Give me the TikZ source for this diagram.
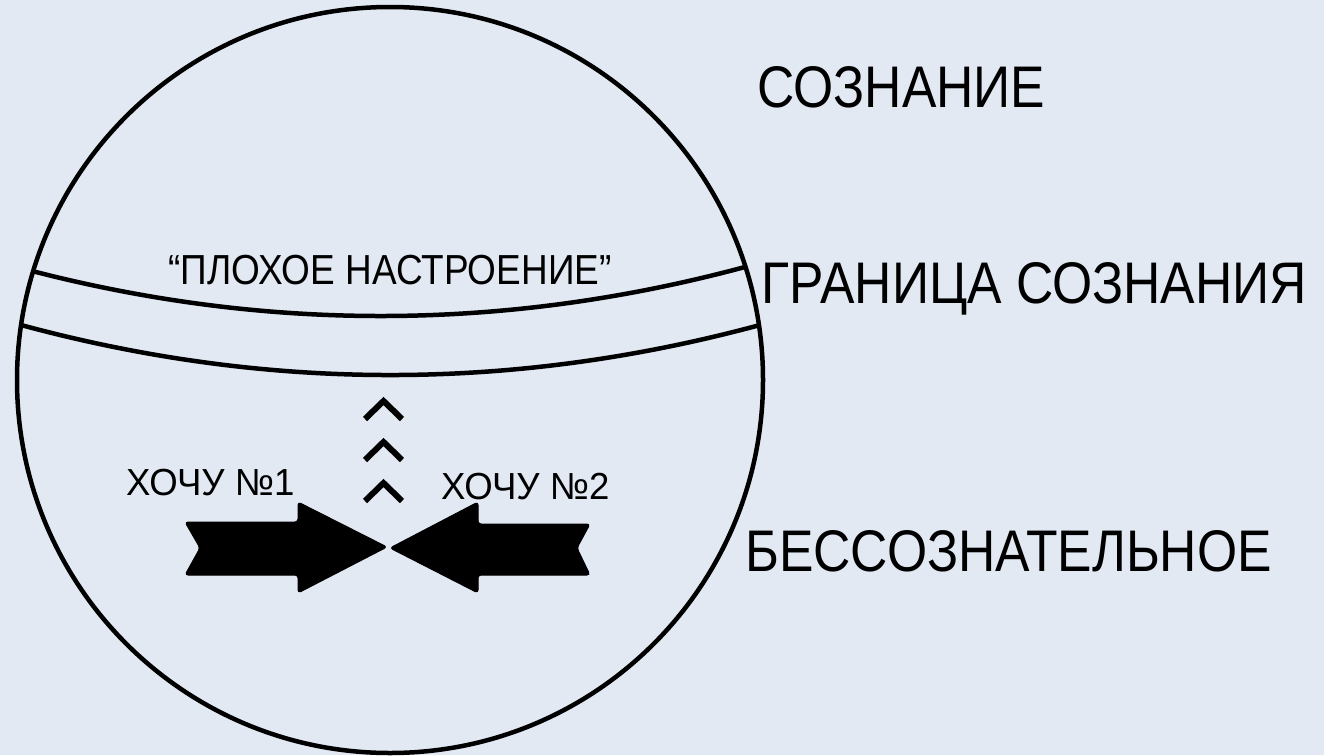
\documentclass[tikz,border=0pt]{standalone}
\usepackage{fontspec}
\newfontfamily\thinfont[FakeStretch=0.88]{Liberation Sans}
\newfontfamily\smallfont[FakeStretch=0.97]{Liberation Sans}
\definecolor{bg}{RGB}{226,233,243}
\begin{document}
\begin{tikzpicture}[x=1pt,y=-1pt,
  bigtext/.style={font=\thinfont\fontsize{58.7}{59}\selectfont, anchor=base west, inner sep=0pt},
  midtext/.style={font=\thinfont\fontsize{42}{42}\selectfont, anchor=base west, inner sep=0pt},
  smalltext/.style={font=\smallfont\fontsize{37.7}{38}\selectfont, anchor=base west, inner sep=0pt},
  thickline/.style={line width=4.5pt, black},
  chevron/.style={line width=6pt, black, line cap=butt, line join=miter},
  bigarrow/.style={fill=black, draw=black, line width=1pt, rounded corners=3pt}]
\fill[bg] (0,0) rectangle (1324,755);
\useasboundingbox (0,0) rectangle (1324,755);
% sphere
\node[circle, draw, line width=4.5pt, minimum size=746pt, inner sep=0pt] (sphere) at (390,380) {};
% boundary band
\coordinate (u1) at (32,271);
\coordinate (u2) at (745,267);
\coordinate (l1) at (21,325);
\coordinate (l2) at (760,325);
\draw[thickline] (u1) .. controls (269.3,332.3) and (507,331) .. (u2);
\draw[thickline] (l1) .. controls (267,391.7) and (513.3,391.7) .. (l2);
% labels
\node[bigtext] (soz) at (757,107) {СОЗНАНИЕ};
\node[bigtext] (gran) at (761,303) {ГРАНИЦА СОЗНАНИЯ};
\node[bigtext] (bess) at (745,571) {БЕССОЗНАТЕЛЬНОЕ};
\node[midtext] (plokh) at (168,284) {“ПЛОХОЕ НАСТРОЕНИЕ”};
\node[smalltext] (want1) at (126,495) {ХОЧУ №1};
\node[smalltext] (want2) at (441,499) {ХОЧУ №2};
% chevrons
\draw[chevron] (365,419) -- (383.5,401) -- (402,419);
\draw[chevron] (365,460) -- (383.5,442) -- (402,460);
\draw[chevron] (365,501) -- (383.5,483) -- (402,501);
% arrows
\draw[bigarrow] (185,522) -- (298,522) -- (298,502) -- (387,547) -- (298,593) -- (298,575) -- (185,575) -- (200,548) -- cycle;
\draw[bigarrow] (590,524) -- (478,524) -- (478,502) -- (390,548) -- (478,593) -- (478,575) -- (590,575) -- (577,548) -- cycle;
\end{tikzpicture}
\end{document}
